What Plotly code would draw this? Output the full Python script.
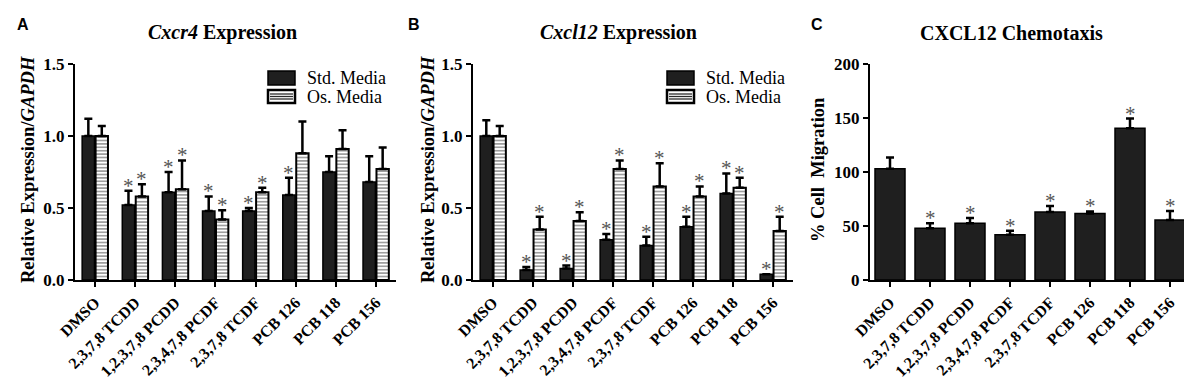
import plotly.graph_objects as go

W, H = 1192, 381

categories = ["DMSO", "2,3,7,8 TCDD", "1,2,3,7,8 PCDD", "2,3,4,7,8 PCDF",
              "2,3,7,8 TCDF", "PCB 126", "PCB 118", "PCB 156"]

# Panel A: Cxcr4 expression
a_std = [1.00, 0.52, 0.61, 0.48, 0.48, 0.59, 0.75, 0.68]
a_std_err = [0.12, 0.10, 0.14, 0.10, 0.02, 0.12, 0.11, 0.18]
a_os = [1.00, 0.58, 0.63, 0.42, 0.61, 0.88, 0.91, 0.77]
a_os_err = [0.07, 0.085, 0.20, 0.065, 0.03, 0.22, 0.13, 0.15]
a_std_sig = [0, 1, 1, 1, 1, 1, 0, 0]
a_os_sig = [0, 1, 1, 1, 1, 0, 0, 0]

# Panel B: Cxcl12 expression
b_std = [1.00, 0.07, 0.08, 0.28, 0.24, 0.37, 0.60, 0.04]
b_std_err = [0.11, 0.02, 0.02, 0.04, 0.06, 0.07, 0.14, 0.0]
b_os = [1.00, 0.35, 0.41, 0.77, 0.65, 0.58, 0.64, 0.34]
b_os_err = [0.07, 0.09, 0.06, 0.06, 0.16, 0.07, 0.07, 0.10]
b_std_sig = [0, 1, 1, 1, 1, 1, 1, 1]
b_os_sig = [0, 1, 1, 1, 1, 1, 1, 1]

# Panel C: CXCL12 chemotaxis
c_mig = [103, 48, 52.5, 42, 63, 61.5, 140.5, 55.5]
c_mig_err = [10.5, 4.5, 5, 3.5, 5.5, 2, 9, 8.5]
c_sig = [0, 1, 1, 1, 1, 1, 1, 1]

SERIF = "Liberation Serif, Times New Roman, serif"
SANS = "Liberation Sans, Arial, sans-serif"
BLACK = "#1f1f1f"


def px(x):
    return x / W


def py(y):
    return 1 - y / H


fig = go.Figure()

err_style = dict(type="data", symmetric=False, thickness=2.5, width=4, color="black")


def std_bar(vals, errs, xa, ya, name):
    return go.Bar(x=categories, y=vals, name=name, xaxis=xa, yaxis=ya,
                  marker=dict(color=BLACK, line=dict(color="black", width=1.5)),
                  error_y=dict(array=errs, arrayminus=[0] * len(errs), **err_style),
                  offsetgroup="std", showlegend=False)


def os_bar(vals, errs, xa, ya, name):
    return go.Bar(x=categories, y=vals, name=name, xaxis=xa, yaxis=ya,
                  marker=dict(color="white", line=dict(color="black", width=2),
                              pattern=dict(shape="-", bgcolor="white", fgcolor="#2a2a2a",
                                           size=3.4, solidity=0.45)),
                  error_y=dict(array=errs, arrayminus=[0] * len(errs), **err_style),
                  offsetgroup="os", showlegend=False)


fig.add_trace(std_bar(a_std, a_std_err, "x", "y", "Std. Media"))
fig.add_trace(os_bar(a_os, a_os_err, "x", "y", "Os. Media"))
fig.add_trace(std_bar(b_std, b_std_err, "x2", "y2", "Std. Media"))
fig.add_trace(os_bar(b_os, b_os_err, "x2", "y2", "Os. Media"))
fig.add_trace(go.Bar(x=categories, y=c_mig, xaxis="x3", yaxis="y3", width=0.75,
                     marker=dict(color=BLACK, line=dict(color="black", width=1.5)),
                     error_y=dict(array=c_mig_err, arrayminus=[0] * len(c_mig_err), **err_style),
                     showlegend=False))

annotations = []
STAR = dict(text="*", showarrow=False, yanchor="bottom",
            font=dict(family=SERIF, size=21, color="#555"))


def stars(vals, errs, sig, xref, yref, shift):
    for c, v, e, s in zip(categories, vals, errs, sig):
        if s:
            annotations.append(dict(x=c, y=v + e, xref=xref, yref=yref,
                                    xshift=shift, yshift=-9, **STAR))


stars(a_std, a_std_err, a_std_sig, "x", "y", -6.8)
stars(a_os, a_os_err, a_os_sig, "x", "y", 6.8)
stars(b_std, b_std_err, b_std_sig, "x2", "y2", -6.8)
stars(b_os, b_os_err, b_os_sig, "x2", "y2", 6.8)
stars(c_mig, c_mig_err, c_sig, "x3", "y3", 0)

# Panel letters and titles
for letter, x in [("A", 15), ("B", 406), ("C", 809)]:
    annotations.append(dict(text="<b>%s</b>" % letter, x=px(x), y=py(16), xref="paper", yref="paper",
                            showarrow=False, xanchor="center", yanchor="middle",
                            font=dict(family=SANS, size=16, color="black")))
for title, x in [("<b><i>Cxcr4</i> Expression</b>", 214),
                 ("<b><i>Cxcl12</i> Expression</b>", 610),
                 ("<b>CXCL12 Chemotaxis</b>", 1003)]:
    annotations.append(dict(text=title, x=px(x), y=py(25), xref="paper", yref="paper",
                            showarrow=False, xanchor="center", yanchor="middle",
                            font=dict(family=SERIF, size=20, color="black")))

# Y axis titles
for text, x in [("<b>Relative Expression/<i>GAPDH</i></b>", 20),
                ("<b>Relative Expression/<i>GAPDH</i></b>", 420),
                ("<b>% Cell\u00a0\u00a0Migration</b>", 810)]:
    annotations.append(dict(text=text, x=px(x), y=py(162), xref="paper", yref="paper",
                            textangle=-90, showarrow=False, xanchor="center", yanchor="middle",
                            font=dict(family=SERIF, size=18.5, color="black")))

# Manual legends (panels A and B)
shapes = []
for lx in (260, 659):
    shapes.append(dict(type="rect", xref="paper", yref="paper",
                       x0=px(lx), x1=px(lx + 27), y0=py(77), y1=py(63),
                       fillcolor=BLACK, line=dict(color="black", width=1.5)))
    shapes.append(dict(type="rect", xref="paper", yref="paper",
                       x0=px(lx), x1=px(lx + 27), y0=py(95), y1=py(82),
                       fillcolor="white", line=dict(color="black", width=2.5)))
    for yy in (86, 88.5, 91):
        shapes.append(dict(type="line", xref="paper", yref="paper",
                           x0=px(lx + 2), x1=px(lx + 25), y0=py(yy), y1=py(yy),
                           line=dict(color="#2a2a2a", width=1.3)))
    for label, yy in [("Std. Media", 70), ("Os. Media", 89)]:
        annotations.append(dict(text=label, x=px(lx + 37), y=py(yy), xref="paper", yref="paper",
                                showarrow=False, xanchor="left", yanchor="middle",
                                font=dict(family=SERIF, size=18, color="black")))

ydom = [py(272), py(56)]
xaxis_common = dict(type="category", showline=True, linewidth=2, linecolor="black",
                    ticks="outside", ticklen=5, tickwidth=2, tickcolor="black",
                    tickangle=-45, showgrid=False, zeroline=False, automargin=False,
                    tickfont=dict(family=SERIF, size=16, color="black", weight="bold"),
                    range=[-0.5, 7.5])
yaxis_common = dict(showline=True, linewidth=2, linecolor="black",
                    ticks="outside", ticklen=5, tickwidth=2, tickcolor="black",
                    showgrid=False, zeroline=False, automargin=False, domain=ydom,
                    tickfont=dict(family=SERIF, size=17, color="black", weight="bold"))

fig.update_layout(
    width=W, height=H,
    margin=dict(l=0, r=0, t=0, b=0),
    paper_bgcolor="white", plot_bgcolor="white",
    barmode="group", bargap=0.33, bargroupgap=0.08,
    showlegend=False,
    xaxis=dict(domain=[px(67), px(388)], anchor="y", **xaxis_common),
    xaxis2=dict(domain=[px(465), px(785)], anchor="y2", **xaxis_common),
    xaxis3=dict(domain=[px(862), px(1182)], anchor="y3", **xaxis_common),
    yaxis=dict(anchor="x", range=[0, 1.5], dtick=0.5, tickformat=".1f", **yaxis_common),
    yaxis2=dict(anchor="x2", range=[0, 1.5], dtick=0.5, tickformat=".1f", **yaxis_common),
    yaxis3=dict(anchor="x3", range=[0, 200], dtick=50, **yaxis_common),
    annotations=annotations,
    shapes=shapes,
)

fig.write_html("out.html")
